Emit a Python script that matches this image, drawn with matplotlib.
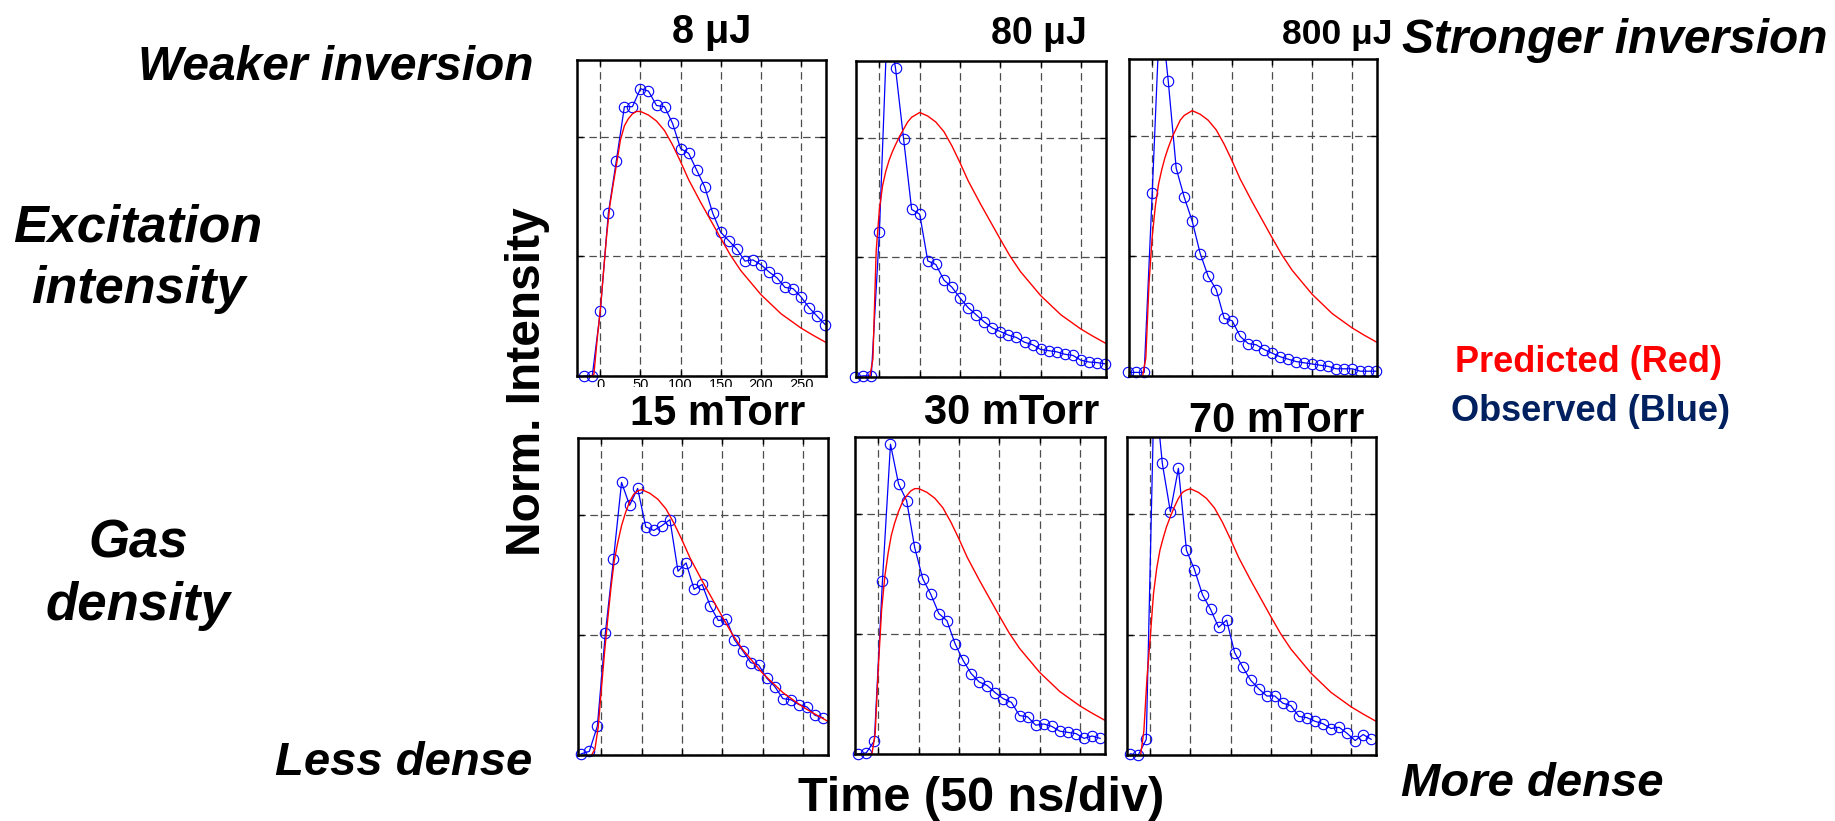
import numpy as np
import matplotlib
matplotlib.use('Agg')
import matplotlib.pyplot as plt
from matplotlib.patches import Rectangle

plt.rcParams['font.family'] = ['Liberation Sans', 'DejaVu Sans']

W, H = 1835, 821

# sample times of the observed traces (ns)
t_top = [-30, -20, -10, 0, 10, 20, 30, 40, 50, 60, 70, 80, 90, 100, 110, 120,
         130, 140, 150, 160, 170, 180, 190, 200, 210, 220, 230, 240, 250, 260, 270, 280]
t_bot = [-25, -15, -5, 5, 15, 25, 35, 45, 55, 65, 75, 85, 95, 105, 115, 125,
         135, 145, 155, 165, 175, 185, 195, 205, 215, 225, 235, 245, 255, 265, 275]

# observed (blue) traces, grid units
obs_8uJ = [np.nan, 0, 0, 0.54, 1.36, 1.80, 2.25, 2.25, 2.40, 2.38, 2.26, 2.25, 2.11, 1.90, 1.86, 1.72,
           1.58, 1.36, 1.20, 1.13, 1.06, 0.96, 0.97, 0.93, 0.87, 0.82, 0.74, 0.73, 0.66, 0.57, 0.50, 0.43]
obs_80uJ = [0, 0.01, 0.01, 1.21, 3.0, 2.58, 1.99, 1.40, 1.36, 0.97, 0.94, 0.81, 0.75, 0.66, 0.58, 0.52,
            0.46, 0.41, 0.38, 0.35, 0.33, 0.29, 0.27, 0.23, 0.22, 0.21, 0.19, 0.18, 0.14, 0.125, 0.12, 0.11]
obs_800uJ = [0.03, 0.03, 0.03, 1.52, 3.1, 2.46, 1.73, 1.49, 1.29, 1.02, 0.83, 0.72, 0.48, 0.46, 0.33, 0.27,
             0.26, 0.22, 0.19, 0.16, 0.14, 0.12, 0.11, 0.10, 0.09, 0.08, 0.06, 0.06, 0.06, 0.04, 0.04, 0.04]
obs_15mT = [0.01, 0.03, 0.24, 1.02, 1.63, 2.27, 2.08, 2.22, 1.90, 1.87, 1.91, 1.96, 1.53, 1.60, 1.38, 1.42,
            1.24, 1.12, 1.13, 0.96, 0.87, 0.77, 0.75, 0.64, 0.57, 0.47, 0.46, 0.42, 0.40, 0.33, 0.31]
obs_30mT = [0, 0.01, 0.11, 1.44, 2.58, 2.25, 2.11, 1.72, 1.46, 1.33, 1.17, 1.11, 0.92, 0.78, 0.67, 0.60,
            0.57, 0.51, 0.46, 0.43, 0.32, 0.31, 0.24, 0.25, 0.23, 0.19, 0.18, 0.17, 0.13, 0.15, 0.13]
obs_70mT = [0.01, 0.0, 0.13, 3.1, 2.42, 2.02, 2.38, 1.70, 1.54, 1.33, 1.21, 1.06, 1.12, 0.85, 0.73, 0.62,
            0.55, 0.49, 0.49, 0.43, 0.41, 0.32, 0.31, 0.28, 0.26, 0.22, 0.23, 0.18, 0.12, 0.17, 0.13]

# predicted (red) traces: rising edge per panel + common decay
rise_t = [-12, -8, -4, 0, 4, 8, 12, 16, 20, 25, 30, 35, 40, 45]
rise_8uJ = [0, 0.01, 0.30, 0.55, 0.87, 1.18, 1.43, 1.60, 1.76, 1.97, 2.09, 2.15, 2.19, 2.21]
rise_80uJ = [0, 0.15, 1.05, 1.40, 1.60, 1.72, 1.81, 1.88, 1.94, 2.01, 2.07, 2.13, 2.17, 2.19]
rise_800uJ = [0, 0.15, 0.77, 1.16, 1.42, 1.60, 1.72, 1.82, 1.90, 1.99, 2.06, 2.13, 2.17, 2.19]
rise_15mT = [0, 0.05, 0.23, 0.55, 0.86, 1.14, 1.40, 1.62, 1.76, 1.91, 2.02, 2.11, 2.17, 2.20]
rise_30mT = [0, 0, 0.17, 0.73, 1.20, 1.48, 1.67, 1.82, 1.92, 2.02, 2.10, 2.15, 2.19, 2.21]
rise_70mT = [0, 0.20, 0.65, 0.98, 1.34, 1.55, 1.70, 1.80, 1.89, 1.98, 2.06, 2.13, 2.18, 2.20]
tail_t = [50, 60, 70, 80, 90, 100, 110, 125, 140, 150, 162, 175, 200, 225, 250, 265, 281]
tail_y = [2.21, 2.18, 2.13, 2.05, 1.93, 1.79, 1.64, 1.45, 1.27, 1.15, 1.01, 0.88, 0.68, 0.52, 0.40, 0.34, 0.28]

titles = ['8 \u03bcJ', '80 \u03bcJ', '800 \u03bcJ', '15 mTorr', '30 mTorr', '70 mTorr']

fig = plt.figure(figsize=(W / 100, H / 100), dpi=100)


def frac(x, y):
    return x / W, 1 - y / H


# axes boxes in pixels: left, top, right, bottom
boxes = [(577, 60, 826, 376), (856, 61, 1106, 377), (1129, 59, 1377, 376),
         (578, 438, 828, 755), (855, 437, 1105, 754), (1127, 437, 1376, 755)]
panels = [(t_top, obs_8uJ, rise_8uJ), (t_top, obs_80uJ, rise_80uJ), (t_top, obs_800uJ, rise_800uJ),
          (t_bot, obs_15mT, rise_15mT), (t_bot, obs_30mT, rise_30mT), (t_bot, obs_70mT, rise_70mT)]

ytop = 2.64
for i, ((l, t, r, b), (tt, obs, rise)) in enumerate(zip(boxes, panels)):
    ax = fig.add_axes([l / W, 1 - b / H, (r - l) / W, (b - t) / H])
    tt = np.array(tt, float)
    obs = np.array(obs, float)
    ax.plot(tt, obs, color='blue', lw=0.9)
    ok = obs <= ytop
    ax.plot(tt[ok], obs[ok], ls='none', marker='o', ms=7.5, mfc='none',
            mec='blue', mew=0.8, clip_on=False)
    ax.plot(rise_t + tail_t, rise + tail_y, color='red', lw=1.0)
    ax.set_xlim(-29, 281)
    ax.set_ylim(0, ytop)
    ax.set_xticks(range(0, 251, 50))
    ax.set_yticks([0, 1, 2])
    ax.grid(True, ls=(0, (6, 3.5)), color='#4d4d4d', lw=0.9)
    ax.tick_params(direction='in', length=4, width=1, top=True, right=True,
                   labelleft=False, labelbottom=(i == 0), labelsize=10.5, pad=1.5)
    for s in ax.spines.values():
        s.set_linewidth(1.8)

# white strip hiding the lower part of the first panel's tick labels
fig.add_artist(Rectangle(frac(565, 434), 280 / W, 47 / H, transform=fig.transFigure,
                         facecolor='white', edgecolor='none', zorder=2))

bold = dict(fontweight='bold', ha='center', va='baseline', zorder=3)
for s, (x, y), fs in zip(titles, [(712, 43), (1039, 44), (1337, 44), (718, 425), (1012, 424), (1277, 432)],
                         [28.5, 27, 25.5, 30, 30, 30]):
    fig.text(*frac(x, y), s, fontsize=fs, **bold)

it = dict(fontweight='bold', fontstyle='italic', va='baseline')
fig.text(*frac(533, 80), 'Weaker inversion', fontsize=34.5, ha='right', **it)
fig.text(*frac(1402, 53), 'Stronger inversion', fontsize=34.5, ha='left', **it)
fig.text(*frac(138, 241), 'Excitation', fontsize=37.5, ha='center', **it)
fig.text(*frac(138, 303), 'intensity', fontsize=37.5, ha='center', **it)
fig.text(*frac(138, 557), 'Gas', fontsize=38, ha='center', **it)
fig.text(*frac(138, 620), 'density', fontsize=38, ha='center', **it)
fig.text(*frac(532, 775), 'Less dense', fontsize=34, ha='right', **it)
fig.text(*frac(1401, 796), 'More dense', fontsize=34, ha='left', **it)

fig.text(*frac(981, 811), 'Time (50 ns/div)', fontsize=35, **bold)
fig.text(*frac(528, 382), 'Norm. Intensity', fontsize=34.5, fontweight='bold',
         rotation=90, ha='center', va='center')
fig.text(*frac(1588, 372), 'Predicted (Red)', fontsize=26, color='#ff0000', **bold)
fig.text(*frac(1590, 421), 'Observed (Blue)', fontsize=26, color='#002060', **bold)

fig.savefig('out.png', dpi=100, facecolor='white')
